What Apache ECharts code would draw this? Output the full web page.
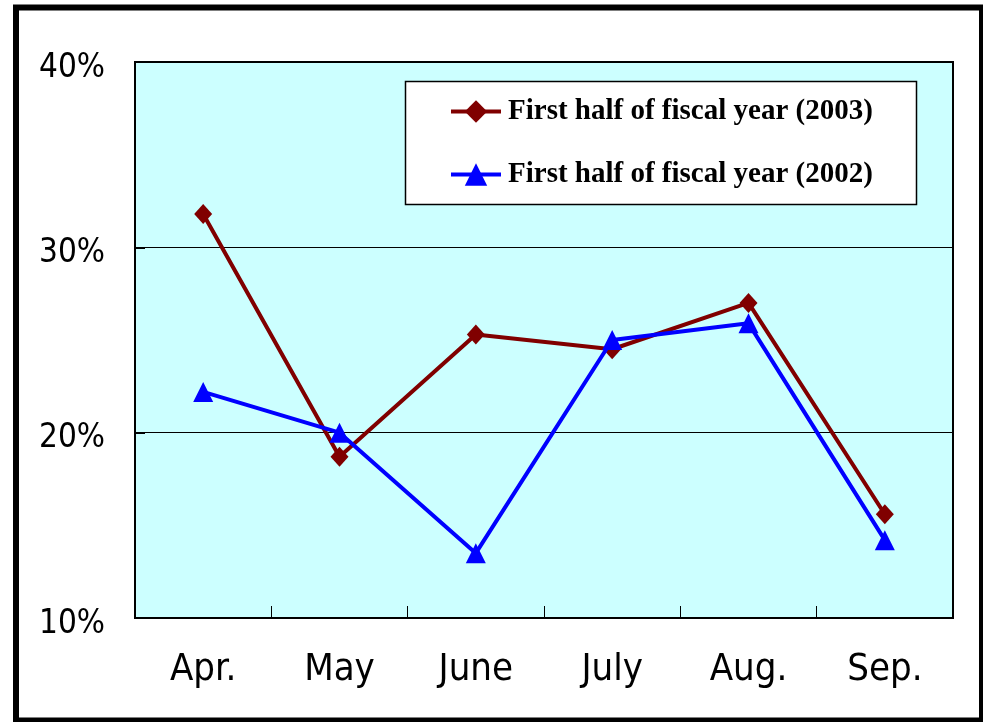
<!DOCTYPE html>
<html>
<head>
<meta charset="utf-8">
<script src="https://cdn.jsdelivr.net/npm/echarts@6/dist/echarts.min.js"></script>
<style>
  html, body { margin: 0; padding: 0; background: #ffffff; }
  #chart { width: 983px; height: 722px; }
</style>
</head>
<body>
<div id="chart"></div>
<script>
// Monthly rates, April to September
const months = ['Apr.', 'May', 'June', 'July', 'Aug.', 'Sep.'];
const fy2003 = [31.8, 18.7, 25.3, 24.5, 27.0, 15.6];
const fy2002 = [22.2, 20.0, 13.5, 25.0, 25.9, 14.2];
const seriesNames = ['First half of fiscal year (2003)', 'First half of fiscal year (2002)'];

const axisFont = '"DejaVu Sans Condensed", "Liberation Sans", Arial, sans-serif';
const legendFont = '"Liberation Serif", "Times New Roman", serif';

const chart = echarts.init(document.getElementById('chart'), null, { renderer: 'canvas' });

chart.setOption({
  animation: false,
  backgroundColor: '#ffffff',
  graphic: [
    {
      // outer frame
      type: 'rect',
      shape: { x: 16, y: 7.5, width: 966, height: 713 },
      style: { fill: 'none', stroke: '#000000', lineWidth: 6 },
      z: 0
    },
    {
      // legend box
      type: 'rect',
      shape: { x: 405.5, y: 81.5, width: 511, height: 123 },
      style: { fill: '#ffffff', stroke: '#000000', lineWidth: 1.5 },
      z: 5
    }
  ],
  grid: {
    left: 135, right: 30, top: 62, bottom: 104,
    show: true,
    backgroundColor: '#CCFFFF',
    borderColor: '#000000',
    borderWidth: 2
  },
  legend: {
    orient: 'vertical',
    left: 444,
    top: 92,
    itemWidth: 50,
    itemHeight: 28,
    itemGap: 34,
    z: 10,
    lineStyle: { width: 4 },
    textStyle: {
      fontFamily: legendFont,
      fontWeight: 'bold',
      fontSize: 29,
      color: '#000000',
      padding: [0, 0, 0, 2]
    },
    data: seriesNames
  },
  xAxis: {
    type: 'category',
    data: months,
    boundaryGap: true,
    axisLine: { show: true, lineStyle: { color: '#000000', width: 2 } },
    axisTick: { show: true, inside: true, length: 12, lineStyle: { color: '#000000', width: 1 } },
    axisLabel: {
      margin: 52,
      verticalAlign: 'middle',
      fontFamily: axisFont,
      fontSize: 38,
      color: '#000000'
    },
    splitLine: { show: false }
  },
  yAxis: {
    type: 'value',
    min: 10,
    max: 40,
    interval: 10,
    axisLine: { show: true, lineStyle: { color: '#000000', width: 2 } },
    axisTick: { show: true, inside: true, length: 10, lineStyle: { color: '#000000', width: 2 } },
    axisLabel: {
      formatter: '{value}%',
      margin: 30,
      fontFamily: axisFont,
      fontSize: 33,
      color: '#000000',
      verticalAlign: 'top',
      lineHeight: 12
    },
    splitLine: { show: true, lineStyle: { color: '#000000', width: 1 } }
  },
  series: [
    {
      name: seriesNames[0],
      type: 'line',
      data: fy2003,
      symbol: 'diamond',
      symbolSize: [18, 20],
      lineStyle: { color: '#800000', width: 4 },
      itemStyle: { color: '#800000' },
      z: 3
    },
    {
      name: seriesNames[1],
      type: 'line',
      data: fy2002,
      symbol: 'triangle',
      symbolSize: [20, 20],
      lineStyle: { color: '#0000FF', width: 4 },
      itemStyle: { color: '#0000FF' },
      z: 4
    }
  ]
});
</script>
</body>
</html>
